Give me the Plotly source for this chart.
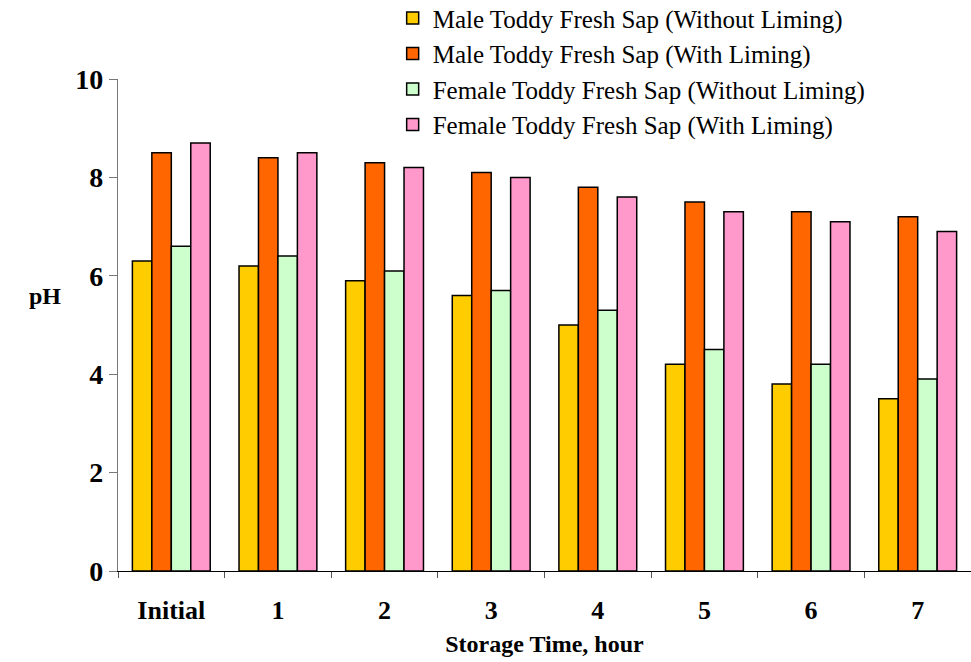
import plotly.graph_objects as go

categories = ["Initial", "1", "2", "3", "4", "5", "6", "7"]
male_without = [6.3, 6.2, 5.9, 5.6, 5.0, 4.2, 3.8, 3.5]
male_with = [8.5, 8.4, 8.3, 8.1, 7.8, 7.5, 7.3, 7.2]
female_without = [6.6, 6.4, 6.1, 5.7, 5.3, 4.5, 4.2, 3.9]
female_with = [8.7, 8.5, 8.2, 8.0, 7.6, 7.3, 7.1, 6.9]

series = [
    ("Male Toddy Fresh Sap (Without Liming)", male_without, "#FFCC00"),
    ("Male Toddy Fresh Sap (With Liming)", male_with, "#FF6600"),
    ("Female Toddy Fresh Sap (Without Liming)", female_without, "#CCFFCC"),
    ("Female Toddy Fresh Sap (With Liming)", female_with, "#FF99CC"),
]

fig = go.Figure()
for name, vals, col in series:
    fig.add_trace(go.Bar(
        x=categories, y=vals, name=name,
        marker=dict(color=col, line=dict(color="black", width=1.5)),
    ))

font = "Liberation Serif"
legfont = "Times New Roman, Liberation Serif, serif"
fig.update_layout(
    width=971, height=662,
    margin=dict(l=118, r=0, t=79, b=91, autoexpand=False),
    paper_bgcolor="white", plot_bgcolor="white",
    barmode="group", bargap=0.27, bargroupgap=0,
    font=dict(family=font, color="black"),
    showlegend=True,
    legend=dict(
        x=0.322, y=1.17, xanchor="left", yanchor="top",
        font=dict(family=legfont, size=25, color="black", weight="normal"),
        bgcolor="rgba(0,0,0,0)", itemwidth=30, tracegroupgap=0,
    ),
    xaxis=dict(
        showline=True, linecolor="black", linewidth=1.2,
        ticks="outside", tickson="boundaries", ticklen=6, tickcolor="#555",
        tickfont=dict(family=font, size=26, color="black", weight="bold"),
        ticklabelstandoff=16,
        title=dict(text="<b>Storage Time, hour</b>", font=dict(family=font, size=24), standoff=10),
        showgrid=False,
    ),
    yaxis=dict(
        range=[0, 10], dtick=2,
        showline=True, linecolor="#777", linewidth=1.2,
        ticks="outside", ticklen=8, tickcolor="#777",
        tickfont=dict(family=font, size=28, color="black", weight="bold"),
        showgrid=False, zeroline=False,
    ),
    annotations=[dict(
        text="<b>pH</b>", xref="paper", yref="paper", x=-0.086, y=0.559,
        xanchor="center", yanchor="middle", showarrow=False,
        font=dict(family=font, size=24, color="black"),
    )],
)
fig.write_html("out.html")
